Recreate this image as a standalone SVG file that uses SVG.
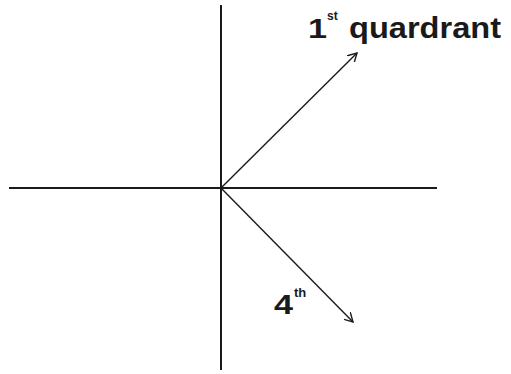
<svg xmlns="http://www.w3.org/2000/svg" width="511" height="374" viewBox="0 0 511 374">
<style>
.ax{stroke:#1a1a1a;stroke-width:2;fill:none}
.vec{stroke:#1a1a1a;stroke-width:1.4;fill:none}
.t{font-family:"Liberation Sans",Arial,sans-serif;font-weight:bold;fill:#1a1a1a}
</style>
<defs>
<marker id="ah" viewBox="0 0 10 10" refX="9" refY="5" markerWidth="10" markerHeight="10" markerUnits="userSpaceOnUse" orient="auto">
<path d="M0,0 L9,5 L0,10" fill="none" stroke="#1a1a1a" stroke-width="1.4"/>
</marker>
</defs>
<g id="axes">
<line class="ax" x1="221" y1="5" x2="221" y2="370"/>
<line class="ax" x1="9" y1="188" x2="437" y2="188"/>
</g>
<g id="connectors">
<line class="vec" x1="221" y1="188" x2="357" y2="53" marker-end="url(#ah)"/>
<line class="vec" x1="221" y1="188" x2="353" y2="322" marker-end="url(#ah)"/>
</g>
<g id="label1">
<text class="t" x="308" y="38" font-size="28" textLength="19" lengthAdjust="spacingAndGlyphs">1</text>
<text class="t" x="327" y="20" font-size="12">st</text>
<text class="t" x="349" y="38" font-size="29" textLength="152" lengthAdjust="spacingAndGlyphs">quardrant</text>
</g>
<g id="label4">
<text class="t" x="274" y="314" font-size="28" textLength="19" lengthAdjust="spacingAndGlyphs">4</text>
<text class="t" x="294" y="297" font-size="13">th</text>
</g>
</svg>
